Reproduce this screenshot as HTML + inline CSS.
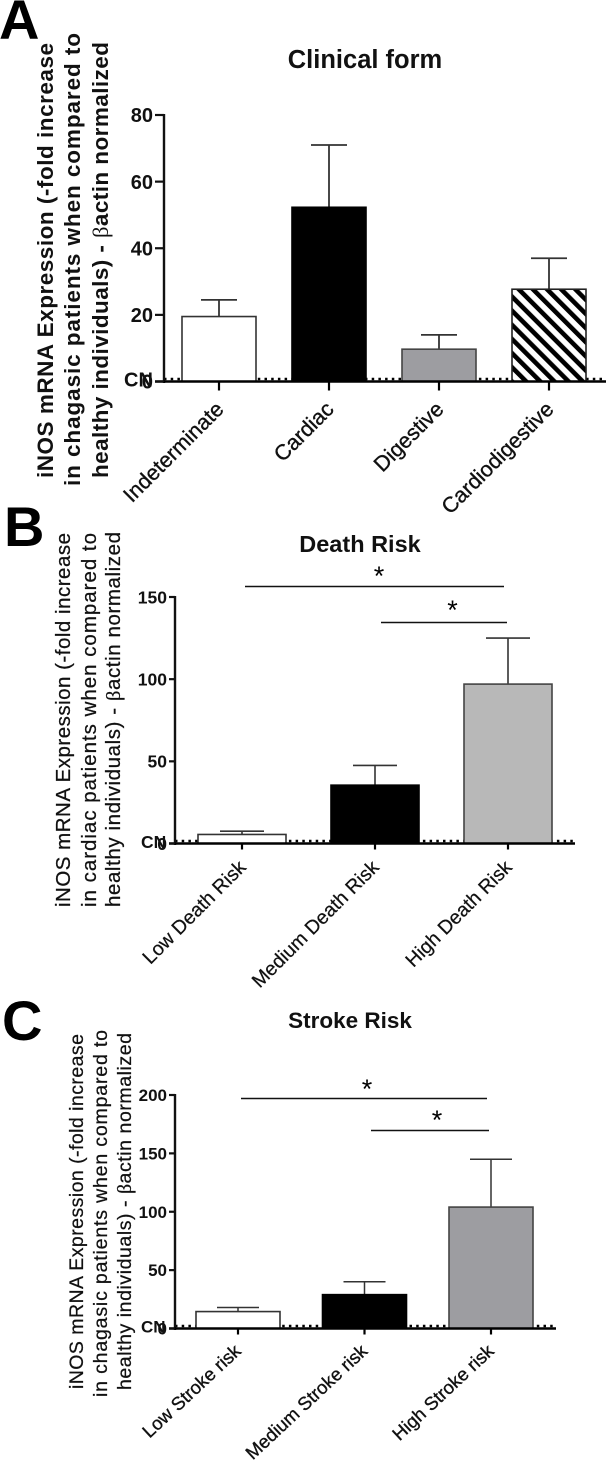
<!DOCTYPE html>
<html lang="en">
<head>
<meta charset="utf-8">
<title>iNOS mRNA expression charts</title>
<style>
html,body{margin:0;padding:0;background:#fff;}
body{width:606px;height:1465px;overflow:hidden;}
svg{display:block;font-family:"Liberation Sans",Arial,sans-serif;}
</style>
</head>
<body>
<svg id="fig" xmlns="http://www.w3.org/2000/svg" width="606" height="1465" viewBox="0 0 606 1465">
<defs>
<pattern id="hatch" patternUnits="userSpaceOnUse" width="10" height="10" patternTransform="rotate(-45)">
<rect width="10" height="10" fill="#fff"></rect>
<rect x="0" width="4.6" height="10" fill="#000"></rect>
</pattern>
</defs>
</svg>
<script>
// Panel A data
const aCategories = ['Indeterminate', 'Cardiac', 'Digestive', 'Cardiodigestive'];
const aValues = [19.5, 52.3, 9.7, 27.7];
const aErrorTops = [24.5, 71, 14, 37];
const aTicks = [0, 20, 40, 60, 80];
// Panel B data
const bCategories = ['Low Death Risk', 'Medium Death Risk', 'High Death Risk'];
const bValues = [5.5, 35.5, 97];
const bErrorTops = [7.5, 47.5, 125];
const bTicks = [0, 50, 100, 150];
// Panel C data
const cCategories = ['Low Stroke risk', 'Medium Stroke risk', 'High Stroke risk'];
const cValues = [14.5, 29, 104];
const cErrorTops = [18, 40, 145];
const cTicks = [0, 50, 100, 150, 200];

const svg = document.getElementById('fig');
const NS = 'http://www.w3.org/2000/svg';

function mk(tag, attrs, parent, txt) {
  const el = document.createElementNS(NS, tag);
  for (const k in attrs) el.setAttribute(k, attrs[k]);
  if (txt !== undefined) el.textContent = txt;
  (parent || svg).appendChild(el);
  return el;
}

function drawPanel(p) {
  const g = mk('g', {});
  
  
  const yPos = v => p.y0 - v * (p.y0 - p.yTop) / p.yMax;
  const xPos = i => p.xFirst + i * p.xStep;

  const letter = mk('text', {x: p.letterX, y: p.letterY, 'font-size': p.letterSize, 'font-weight': 700, fill: '#000'}, g, p.letter);
  
  

  const title = mk('text', {x: p.titleX, y: p.titleY, 'font-size': p.titleSize, 'font-weight': 700, 'text-anchor': 'middle', fill: '#111'}, g, p.title);
  
  

  // y axis title: three rotated lines
  p.yLines.forEach((ln, i) => {
    const t = mk('text', {
      transform: 'translate(' + p.yLineX[i] + ',' + ln.from + ') rotate(-90)',
      'font-size': p.yFont, 'font-weight': p.yWeight, fill: '#111',
      stroke: '#111', 'stroke-width': p.yStroke,
      textLength: ln.from - ln.to, lengthAdjust: 'spacing'
    }, g);
    
    
    mk('tspan', {}, t, ln.a);
    if (ln.beta) {
      mk('tspan', {'font-family': '"Liberation Serif",serif', 'font-weight': 400}, t, '\u03B2');
      mk('tspan', {}, t, ln.b);
    }
  });

  // dotted CN reference line
  const dots = mk('line', {x1: p.axisX, x2: p.xEnd, y1: p.y0 - 2.5, y2: p.y0 - 2.5, stroke: '#000', 'stroke-width': 2.5, 'stroke-dasharray': '2.5 4.2'}, g);
  
  

  // bars + error bars
  p.categories.forEach((c, i) => {
    const cx = xPos(i);
    const top = yPos(p.values[i]);
    const errTop = yPos(p.errors[i]);
    const err = mk('line', {x1: cx, x2: cx, y1: top, y2: errTop, stroke: '#333', 'stroke-width': p.errW}, g);
    
    
    const cap = mk('line', {x1: cx - p.capW, x2: cx + p.capW, y1: errTop, y2: errTop, stroke: '#333', 'stroke-width': p.errW}, g);
    
    
    const bar = mk('rect', {x: cx - p.barW / 2, y: top, width: p.barW, height: p.y0 - top, fill: p.fills[i], stroke: p.strokes[i], 'stroke-width': 1.6}, g);
    
    
    const tick = mk('line', {x1: cx, x2: cx, y1: p.y0, y2: p.y0 + p.tickLen, stroke: '#000', 'stroke-width': 2.2}, g);
    
    
    const lx = cx + p.labDx, ly = p.y0 + p.labDy;
    const lab = mk('text', {transform: 'translate(' + lx + ',' + ly + ') rotate(' + p.labRot + ')', 'text-anchor': 'end', 'font-size': p.labFont, 'font-weight': 400, fill: '#111', stroke: '#111', 'stroke-width': p.labStroke}, g, c);
    
    
  });

  // axes
  const ax = mk('line', {x1: p.axisX, x2: p.axisX, y1: p.yTop - 1, y2: p.y0 + 1.5, stroke: '#111', 'stroke-width': 2.4}, g);
  
  
  const bx = mk('line', {x1: p.axisX - p.tickLen, x2: p.xEnd, y1: p.y0, y2: p.y0, stroke: '#000', 'stroke-width': 2.4}, g);
  
  

  p.ticks.forEach(v => {
    const y = yPos(v);
    const tk = mk('line', {x1: p.axisX - p.tickLen, x2: p.axisX, y1: y, y2: y, stroke: '#111', 'stroke-width': 2.2}, g);
    
    
    const tl = mk('text', {x: p.axisX - p.tickLen - 2, y: y + p.tickFont * 0.36, 'text-anchor': 'end', 'font-size': p.tickFont, 'font-weight': 700, fill: '#111'}, g, String(v));
    
    
  });
  const cn = mk('text', {x: p.cnX, y: p.y0 + p.tickFont * 0.36 - 2, 'font-size': p.tickFont, 'font-weight': 700, fill: '#111'}, g, 'CN');
  
  

  // significance brackets
  (p.sig || []).forEach(s => {
    const l = mk('line', {x1: s.x1, x2: s.x2, y1: s.y, y2: s.y, stroke: '#111', 'stroke-width': 1.5}, g);
    
    
    const st = mk('text', {x: s.sx, y: s.sy, 'text-anchor': 'middle', 'font-size': 27, fill: '#000'}, g, '*');
    
    
  });
}

drawPanel({
  id: 'clinical-form', letter: 'A', letterX: -1, letterY: 39, letterSize: 56,
  title: 'Clinical form', titleX: 365, titleY: 68, titleSize: 25.5,
  yFont: 22.5, yWeight: 700, yStroke: 0, yLineX: [53, 80, 108],
  yLines: [
    {a: 'iNOS mRNA Expression (-fold increase', from: 478, to: 43},
    {a: 'in chagasic patients when  compared to', from: 486, to: 33},
    {a: 'healthy individuals) - ', beta: true, b: 'actin normalized', from: 478, to: 42}
  ],
  axisX: 164, xEnd: 606, y0: 381.5, yTop: 115, yMax: 80, ticks: aTicks, tickLen: 9, tickFont: 20, cnX: 124,
  xFirst: 219, xStep: 110, barW: 74, capW: 18, errW: 1.8,
  categories: aCategories, values: aValues, errors: aErrorTops,
  fills: ['#fff', '#000', '#9d9da1', 'url(#hatch)'], strokes: ['#333', '#000', '#444', '#222'],
  labDx: 6, labDy: 29, labRot: -45, labFont: 21.5, labStroke: 0.35
});

drawPanel({
  id: 'death-risk', letter: 'B', letterX: 4, letterY: 546, letterSize: 56,
  title: 'Death Risk', titleX: 360, titleY: 552, titleSize: 23.5,
  yFont: 20.5, yWeight: 400, yStroke: 0.25, yLineX: [70, 96, 120],
  yLines: [
    {a: 'iNOS mRNA Expression (-fold increase', from: 907, to: 533},
    {a: 'in cardiac patients when  compared to', from: 907, to: 533},
    {a: 'healthy individuals) - ', beta: true, b: 'actin normalized', from: 907, to: 532}
  ],
  axisX: 175, xEnd: 575, y0: 843.5, yTop: 597, yMax: 150, ticks: bTicks, tickLen: 6, tickFont: 17.5, cnX: 141,
  xFirst: 242, xStep: 133, barW: 88, capW: 22, errW: 1.6,
  categories: bCategories, values: bValues, errors: bErrorTops,
  fills: ['#fff', '#000', '#b8b8b8'], strokes: ['#333', '#000', '#444'],
  labDx: 5, labDy: 25, labRot: -45, labFont: 19.5, labStroke: 0.25,
  sig: [
    {x1: 245, x2: 504, y: 586.5, sx: 379, sy: 585},
    {x1: 381, x2: 507, y: 622.5, sx: 452.5, sy: 619}
  ]
});

drawPanel({
  id: 'stroke-risk', letter: 'C', letterX: 2, letterY: 1040, letterSize: 56,
  title: 'Stroke Risk', titleX: 350, titleY: 1028, titleSize: 22.5,
  yFont: 19.5, yWeight: 400, yStroke: 0.25, yLineX: [83, 107, 131],
  yLines: [
    {a: 'iNOS mRNA Expression (-fold increase', from: 1389, to: 1034},
    {a: 'in chagasic patients when  compared to', from: 1397, to: 1030},
    {a: 'healthy individuals) - ', beta: true, b: 'actin normalized', from: 1390, to: 1033}
  ],
  axisX: 175, xEnd: 556, y0: 1328.5, yTop: 1095, yMax: 200, ticks: cTicks, tickLen: 6, tickFont: 17, cnX: 141,
  xFirst: 238, xStep: 126.5, barW: 84, capW: 21, errW: 1.5,
  categories: cCategories, values: cValues, errors: cErrorTops,
  fills: ['#fff', '#000', '#9d9da1'], strokes: ['#333', '#000', '#444'],
  labDx: 4, labDy: 24, labRot: -43, labFont: 18.5, labStroke: 0.35,
  sig: [
    {x1: 241, x2: 487, y: 1098.5, sx: 367, sy: 1098},
    {x1: 371, x2: 489, y: 1130.5, sx: 437, sy: 1129}
  ]
});
</script>
</body>
</html>
